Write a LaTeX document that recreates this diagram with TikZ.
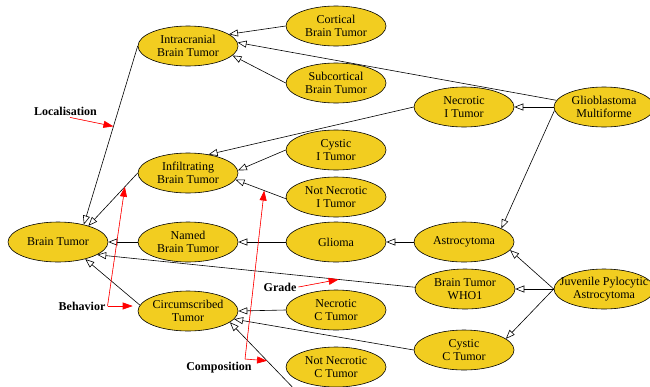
\documentclass[tikz,border=0pt]{standalone}
\usepackage{fontspec}
\setmainfont{Liberation Serif}
\usetikzlibrary{arrows.meta,shapes.geometric,positioning}
\definecolor{tumorYellow}{RGB}{242,205,32}

\begin{document}
\begin{tikzpicture}[x=1pt,y=-1pt]
\tikzstyle{concept} = [
	shape=ellipse,
	draw=black,
	fill=tumorYellow, %fill of the classes
	line width=0.6pt,
	minimum width=100pt, %size of the ellipses
	minimum height=40pt,
	inner sep=0pt,
	align=center,
	font=\fontsize{12}{12.5}\selectfont
];
\tikzstyle{tag} = [
	draw=none,
	inner sep=2pt,
	font=\fontsize{12}{12.5}\selectfont\bfseries
];
\tikzstyle{isa} = [
	-{Triangle[open,length=9pt,width=7pt]}, %hollow head
	line width=0.6pt
];
\tikzstyle{pointer} = [
	-{Triangle[length=10pt,width=7pt]}, %full red head
	draw=red,
	fill=red,
	line width=0.6pt
];

\useasboundingbox (0,0) rectangle (650,386);
\clip (0,0) rectangle (650,386);

\begin{scope}
	\node[concept](IBT) at (188, 46) {Intracranial\\Brain Tumor};
	\node[concept](CBT) at (336, 26) {Cortical\\Brain Tumor};
	\node[concept](SBT) at (336, 83) {Subcortical\\Brain Tumor};
	\node[concept](NIT) at (464, 107) {Necrotic\\I Tumor};
	\node[concept](GM) at (604, 107) {Glioblastoma\\Multiforme};
	\node[concept](InfBT) at (188, 173) {Infiltrating\\Brain Tumor};
	\node[concept](CIT) at (336, 150) {Cystic\\I Tumor};
	\node[concept](NNIT) at (336, 197) {Not Necrotic\\I Tumor};
	\node[concept](BT) at (58, 242) {Brain Tumor};
	\node[concept](NBT) at (188, 242) {Named\\Brain Tumor};
	\node[concept](GL) at (336, 242) {Glioma};
	\node[concept](AST) at (464, 242) {Astrocytoma};
	\node[concept](WHO) at (465, 289) {Brain Tumor\\WHO1};
	\node[concept](JPA) at (604, 289) {\makebox[0pt]{Juvenile Pylocytic}\\Astrocytoma};
	\node[concept](CT) at (188, 311) {Circumscribed\\Tumor};
	\node[concept](NCT) at (336, 310) {Necrotic\\C Tumor};
	\node[concept](CCT) at (464, 350) {Cystic\\C Tumor};
	\node[concept](NNCT) at (336, 367) {Not Necrotic\\C Tumor};

	\node[tag](Loc) at (65.5, 111) {Localisation};
	\node[tag](Beh) at (82, 306) {Behavior};
	\node[tag](Grade) at (280, 287) {Grade};
	\node[tag](Comp) at (219, 368) {Composition};

	\coordinate (offScreen) at (300, 395);
	\coordinate (compFork) at (245, 359);
\end{scope}

\draw [isa] (CBT.west) to[] (IBT.16);
\draw [isa] (GM.172) to[] (IBT.4);
\draw [isa] (SBT.west) to[] (IBT.-12);
\draw [isa] (IBT.west) to[] coordinate[pos=0.45](locTip) (BT.34);
\draw [isa] (NIT.west) to[] (InfBT.42);
\draw [isa] (CIT.west) to[] (InfBT.3);
\draw [isa] (NNIT.182) to[] coordinate[pos=0.43](compTip) (InfBT.-8);
\draw [isa] (InfBT.west) to[] coordinate[pos=0.26](behTip) (BT.28);
\draw [isa] (GM.west) to[] (NIT.east);
\draw [isa] (GM.184) to[] (AST.20);
\draw [isa] (NBT.west) to[] (BT.east);
\draw [isa] (GL.west) to[] (NBT.east);
\draw [isa] (AST.west) to[] (GL.east);
\draw [isa] (JPA.west) to[] (AST.-10);
\draw [isa] (JPA.west) to[] (WHO.east);
\draw [isa] (JPA.west) to[] (CCT.15);
\draw [isa] (WHO.178) to[] coordinate[pos=0.24](gradeTip) (BT.-18);
\draw [isa] (CT.173) to[] (BT.-32);
\draw [isa] (NCT.west) to[] (CT.east);
\draw [isa] (CCT.west) to[] (CT.-10);
\draw [isa] (offScreen) to[] coordinate[pos=0.47](compTipB) (CT.-15);

% facet labels
\draw [pointer] (Loc.-55) to[] (locTip);
\draw [pointer] (Beh.east) to[] (behTip);
\draw [pointer, shorten >=5pt] (Beh.east) to[] (Beh.east -| CT.west);
\draw [pointer] (Grade.east) to[] (gradeTip);
\draw [pointer] (compFork) to[] (compTip);
\draw [pointer] (compFork) to[] (compTipB);

\end{tikzpicture}
\end{document}
